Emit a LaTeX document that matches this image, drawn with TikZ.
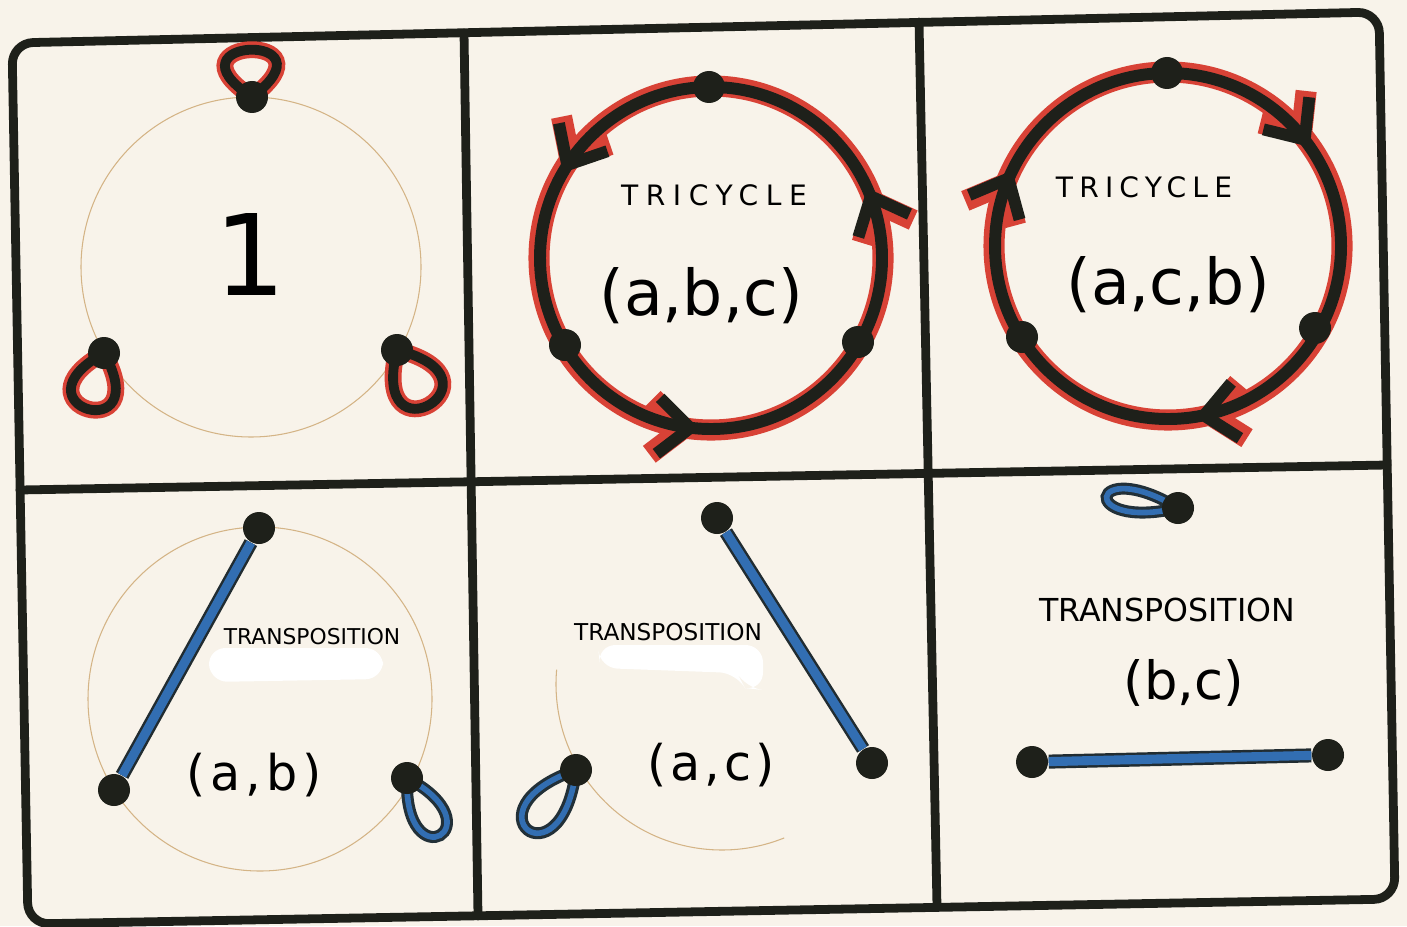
\documentclass[tikz,border=0pt]{standalone}
\usepackage{fontspec}
\setmainfont{DejaVu Sans}
\usepackage{xcolor}
\usetikzlibrary{arrows.meta,decorations.markings}
\definecolor{paper}{RGB}{248,243,234}
\definecolor{ink}{RGB}{30,32,26}
\definecolor{redpen}{RGB}{216,66,54}
\definecolor{bluepen}{RGB}{50,110,178}
\definecolor{pencil}{RGB}{212,180,134}
\newcommand{\penfont}[1]{\fontsize{#1}{#1}\selectfont}
\newcommand{\spaced}[1]{\addfontfeature{LetterSpace=#1}}

\begin{document}
\begin{tikzpicture}[
  frame/.style={draw=ink, line width=2.5pt, line cap=round},
  dot/.style={circle, fill=ink, inner sep=0pt, minimum size=3.2mm},
  guide/.style={draw=pencil, line width=0.3pt},
  ringred/.style={draw, color=redpen, line width=6pt},
  ringink/.style={draw, color=ink, line width=3.4pt},
  loopred/.style={draw=redpen, line width=4.8pt},
  loopink/.style={draw=ink, line width=2.8pt},
  loopdark/.style={draw=ink!80!bluepen, line width=3.4pt},
  loopblue/.style={draw=bluepen, line width=1.6pt},
  bar/.style={draw=ink!85!bluepen, line width=4pt},
  barcore/.style={draw=bluepen, line width=2.6pt},
  patch/.style={fill=white, rounded corners=5pt},
  chev/.tip={Straight Barb[length=3.2mm,width=5.6mm]},
  ccw/.style={postaction={decorate}, decoration={markings,
    mark=at position 0.067 with {\arrow{chev}},
    mark=at position 0.417 with {\arrow{chev}},
    mark=at position 0.739 with {\arrow{chev}}}},
  cw/.style={postaction={decorate}, decoration={markings,
    mark=at position 0.097 with {\arrowreversed{chev}},
    mark=at position 0.428 with {\arrowreversed{chev}},
    mark=at position 0.775 with {\arrowreversed{chev}}}}]

\useasboundingbox (0,0) rectangle (14.07,9.26);
\fill[paper] (0,0) rectangle (14.07,9.26);

% grid of six panels
\coordinate (TL) at (0.12,8.83);
\coordinate (TR) at (13.79,9.14);
\coordinate (BR) at (13.95,0.27);
\coordinate (BL) at (0.28,0.02);
\coordinate (ML) at (0.20,4.36);
\coordinate (MR) at (13.87,4.61);
\coordinate (V1t) at (4.64,8.93);
\coordinate (V1b) at (4.78,0.10);
\coordinate (V2t) at (9.19,9.04);
\coordinate (V2b) at (9.37,0.19);
\draw[frame, rounded corners=6pt] (TL) -- (TR) -- (BR) -- (BL) -- cycle;
\draw[frame] (ML) -- (MR);
\draw[frame] (V1t) -- (V1b);
\draw[frame] (V2t) -- (V2b);

% 1
\coordinate (p1a) at (2.52,8.29);
\coordinate (p1b) at (1.04,5.73);
\coordinate (p1c) at (3.97,5.76);
\draw[guide] (2.51,6.59) circle (1.70);
\foreach \s in {loopred,loopink} {
  \draw[\s] (p1a) to[out=147,in=37,min distance=11mm] (p1a);
  \draw[\s] (p1b) to[out=299,in=209,min distance=11mm] (p1b);
  \draw[\s] (p1c) to[out=346,in=256,min distance=12mm] (p1c);
}
\node[dot] (a1) at (p1a) {};
\node[dot] (b1) at (p1b) {};
\node[dot] (c1) at (p1c) {};
\node[font=\penfont{32}] (one) at (2.50,6.71) {1};

% (a,b,c)
\draw[ringred, ccw] (7.11,6.68) circle (1.72);
\draw[ringink, ccw] (7.11,6.68) circle (1.71);
\node[dot] (a2) at (7.09,8.39) {};
\node[dot] (b2) at (5.65,5.81) {};
\node[dot] (c2) at (8.58,5.84) {};
\node[font=\penfont{8}\spaced{27}] (tri2) at (7.14,7.31) {TRICYCLE};
\node[font=\penfont{18}] (cyc2) at (7.01,6.30) {(a,b,c)};

% (a,c,b)
\draw[ringred, cw] (11.68,6.80) circle (1.74);
\draw[ringink, cw] (11.68,6.80) circle (1.73);
\node[dot] (a3) at (11.67,8.53) {};
\node[dot] (b3) at (10.22,5.89) {};
\node[dot] (c3) at (13.15,5.98) {};
\node[font=\penfont{8}\spaced{22}] (tri3) at (11.44,7.39) {TRICYCLE};
\node[font=\penfont{18}] (cyc3) at (11.68,6.41) {(a,c,b)};

% (a,b)
\coordinate (p4c) at (4.07,1.48);
\draw[guide] (2.60,2.27) circle (1.72);
\foreach \s in {loopdark,loopblue}
  \draw[\s] (p4c) to[out=332,in=268,min distance=10.4mm] (p4c);
\node[dot] (a4) at (2.59,3.98) {};
\node[dot] (b4) at (1.14,1.36) {};
\node[dot] (c4) at (p4c) {};
\draw[bar] (a4) -- (b4);
\draw[barcore] (a4) -- (b4);
\fill[patch] (2.08,2.78) -- (3.83,2.78) -- (3.83,2.47) -- (2.10,2.44) -- cycle;
\node[font=\penfont{6.2}] (tra4) at (3.12,2.89) {TRANSPOSITION};
\node[font=\penfont{14}\spaced{10}] (tr4) at (2.54,1.51) {(a,b)};

% (a,c)
\coordinate (p5b) at (5.76,1.56);
\draw[guide] (7.22,2.42) ++(175:1.66) arc (175:292:1.66);
\foreach \s in {loopdark,loopblue}
  \draw[\s] (p5b) to[out=263,in=199,min distance=12.1mm] (p5b);
\node[dot] (a5) at (7.17,4.08) {};
\node[dot] (b5) at (p5b) {};
\node[dot] (c5) at (8.72,1.63) {};
\draw[bar] (a5) -- (c5);
\draw[barcore] (a5) -- (c5);
\fill[patch] (5.98,2.81) -- (7.63,2.81) -- (7.63,2.36) -- (7.45,2.38) -- (7.37,2.53) -- (6.00,2.58) -- cycle;
\node[font=\penfont{6.6}] (tra5) at (6.68,2.94) {TRANSPOSITION};
\node[font=\penfont{14}\spaced{8}] (tr5) at (7.11,1.61) {(a,c)};

% (b,c)
\coordinate (p6a) at (11.78,4.18);
\foreach \s in {loopdark,loopblue}
  \draw[\s] (p6a) to[out=193,in=149,min distance=10.4mm] (p6a);
\node[dot] (a6) at (p6a) {};
\node[dot] (b6) at (10.32,1.64) {};
\node[dot] (c6) at (13.28,1.71) {};
\draw[bar] (b6) -- (c6);
\draw[barcore] (b6) -- (c6);
\node[font=\penfont{9}] (tra6) at (11.67,3.16) {TRANSPOSITION};
\node[font=\penfont{15}] (tr6) at (11.84,2.43) {(b,c)};
\end{tikzpicture}
\end{document}
